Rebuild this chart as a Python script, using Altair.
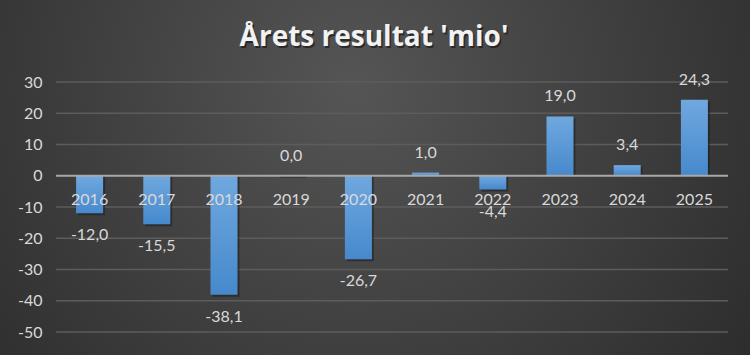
import altair as alt
import pandas as pd

years = ["2016", "2017", "2018", "2019", "2020", "2021", "2022", "2023", "2024", "2025"]
values = [-12.0, -15.5, -38.1, 0.0, -26.7, 1.0, -4.4, 19.0, 3.4, 24.3]
y_ticks = [30, 20, 10, 0, -10, -20, -30, -40, -50]
title_text = "Årets resultat 'mio'"

df = pd.DataFrame({"year": years, "value": values})
ticks_df = pd.DataFrame({"tick": y_ticks})

W, H = 672, 250
FONT = "Lato"
TXT = "#d9d9d9"

bg_gradient = {
    "gradient": "radial",
    "x1": 0.47, "y1": 0.38, "r1": 0,
    "x2": 0.47, "y2": 0.38, "r2": 0.75,
    "stops": [
        {"offset": 0, "color": "#555555"},
        {"offset": 1, "color": "#262626"},
    ],
}

bar_gradient = {
    "gradient": "linear",
    "x1": 0, "y1": 0, "x2": 0, "y2": 1,
    "stops": [
        {"offset": 0, "color": "#70a8df"},
        {"offset": 1, "color": "#4689cc"},
    ],
}

base = alt.Chart(df).transform_calculate(
    zero="0",
    lbl="replace(replace(format(datum.value, '.1f'), '.', ','), '\u2212', '-')",
)
one = base.transform_filter("datum.year == '2016'")

bg = one.mark_rect(fill=bg_gradient).encode(
    x=alt.value(-56), x2=alt.value(W + 22),
    y=alt.value(-82), y2=alt.value(H + 23),
)

xenc = alt.X("year:N", sort=years, scale=alt.Scale(paddingInner=0.6, paddingOuter=0.3), axis=None)
yscale = alt.Scale(domain=[-50, 30], nice=False, zero=False)
yaxis = alt.Axis(values=y_ticks, grid=False, zindex=1,
                 domain=False, ticks=False, labelColor=TXT, labelFont=FONT,
                 labelFontSize=16, labelPadding=14, title=None,
                 labelExpr="replace(datum.label, '\u2212', '-')")

grid = alt.Chart(ticks_df).transform_filter("datum.tick != 0").mark_rule(
    color="#5c5c5c", strokeWidth=1.5
).encode(
    x=alt.value(0), x2=alt.value(W),
    y=alt.Y("tick:Q", scale=yscale, axis=yaxis),
)

shadow = base.mark_bar(color="#1a1a1a", opacity=0.5, xOffset=2, yOffset=2).encode(
    x=xenc, y=alt.Y("value:Q", scale=yscale, axis=yaxis), y2=alt.Y2("zero:Q")
)

bars = base.mark_bar(fill=bar_gradient, size=27).encode(
    x=xenc, y=alt.Y("value:Q", scale=yscale, axis=yaxis), y2=alt.Y2("zero:Q")
)

zero = one.mark_rule(color="#a8a8a8", strokeWidth=2).encode(
    x=alt.value(0), x2=alt.value(W), y=alt.Y("zero:Q", scale=yscale, axis=yaxis)
)

year_labels = base.mark_text(font=FONT, fontSize=16, color=TXT, baseline="middle", dy=24).encode(
    x=xenc, y=alt.Y("zero:Q", scale=yscale, axis=yaxis), text="year:N"
)

pos_labels = base.transform_filter("datum.value >= 0").mark_text(
    font=FONT, fontSize=16, color=TXT, baseline="middle", dy=-20
).encode(x=xenc, y=alt.Y("value:Q", scale=yscale, axis=yaxis), text="lbl:N")

neg_labels = base.transform_filter("datum.value < 0").mark_text(
    font=FONT, fontSize=16, color=TXT, baseline="middle", dy=22
).encode(x=xenc, y=alt.Y("value:Q", scale=yscale, axis=yaxis), text="lbl:N")

TFONT = "Open Sans"
title_shadow = one.mark_text(font=TFONT, fontSize=28, fontWeight="bold", color="#111111",
                             opacity=0.6, baseline="middle", align="center").encode(
    x=alt.value(374 - 56 + 1.5), y=alt.value(38 - 82 + 1.5), text=alt.value(title_text)
)
title = one.mark_text(font=TFONT, fontSize=28, fontWeight="bold", color="#f2f2f2",
                      baseline="middle", align="center").encode(
    x=alt.value(374 - 56), y=alt.value(38 - 82), text=alt.value(title_text)
)

chart = alt.layer(bg, grid, shadow, bars, zero, year_labels, pos_labels, neg_labels,
                  title_shadow, title).properties(
    width=W, height=H,
    autosize=alt.AutoSizeParams(type="none"),
    padding={"left": 56, "top": 82, "right": 22, "bottom": 23},
).configure_view(stroke=None).configure(background="#2a2a2a")

chart.save("out.html", embed_options={"renderer": "svg", "actions": False})
